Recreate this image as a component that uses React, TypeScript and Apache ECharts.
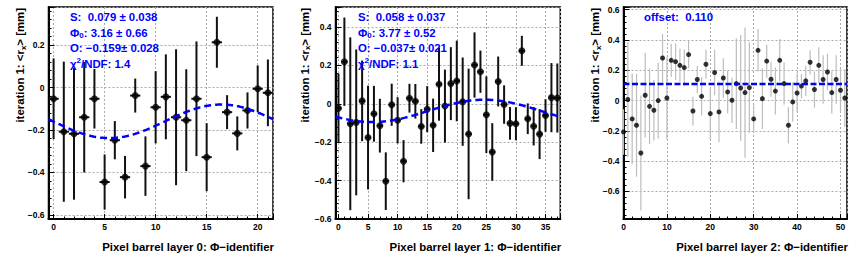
import React, { useEffect, useRef } from "react";
import * as echarts from "echarts";

const FONT = '"Liberation Sans", Arial, Helvetica, sans-serif';

// ---- Pixel barrel layer 0 (22 phi modules) ----
const layer0Values = [-0.053, -0.208, -0.218, -0.14, -0.053, -0.445, -0.248, -0.422, -0.038, -0.37, -0.093, -0.044, -0.14, -0.154, -0.053, -0.328, 0.213, -0.116, -0.216, -0.108, -0.006, -0.025];
const layer0Errors = [0.19, 0.33, 0.31, 0.26, 0.14, 0.13, 0.09, 0.1, 0.08, 0.14, 0.17, 0.2, 0.32, 0.24, 0.27, 0.16, 0.12, 0.08, 0.08, 0.085, 0.11, 0.157];
const layer0Fit = [0.079, 3.16, -0.159]; // S, Phi0, O
const layer0FitErr = [0.038, 0.66, 0.028];
const layer0Chi2 = [1.4];

// ---- Pixel barrel layer 1 (38 phi modules) ----
const layer1Values = [-0.023, 0.219, -0.104, -0.097, 0.015, -0.176, -0.052, -0.114, -0.403, -0.005, -0.086, -0.299, 0.029, 0.013, -0.118, -0.028, -0.112, 0.102, -0.012, 0.105, 0.119, 0.011, -0.157, 0.202, 0.167, -0.057, -0.251, 0.116, -0.004, -0.102, -0.104, 0.276, -0.078, -0.117, -0.158, -0.061, 0.032, 0.03];
const layer1Errors = [0.18, 0.23, 0.45, 0.38, 0.21, 0.27, 0.145, 0.14, 0.15, 0.11, 0.12, 0.11, 0.075, 0.09, 0.09, 0.12, 0.139, 0.19, 0.19, 0.19, 0.21, 0.23, 0.34, 0.17, 0.11, 0.2, 0.15, 0.13, 0.1, 0.085, 0.086, 0.078, 0.08, 0.1, 0.13, 0.085, 0.18, 0.18];
const layer1Fit = [0.058, 3.77, -0.037];
const layer1FitErr = [0.037, 0.52, 0.021];
const layer1Chi2 = [1.1];

// ---- Pixel barrel layer 2 (52 phi modules) ----
const layer2Values = [-0.207, 0.007, -0.121, -0.163, -0.346, 0.035, -0.038, -0.064, 0.0, 0.281, 0.017, 0.266, 0.257, 0.233, 0.218, 0.304, -0.069, 0.139, 0.028, 0.24, -0.086, 0.185, -0.075, 0.149, 0.057, 0.002, 0.112, 0.083, 0.053, 0.086, -0.121, 0.332, 0.013, 0.261, 0.141, 0.063, 0.266, 0.112, -0.163, -0.009, 0.05, 0.096, 0.13, 0.253, 0.073, 0.233, 0.139, 0.189, 0.053, 0.139, 0.068, 0.017];
const layer2Errors = [0.15, 0.38, 0.3, 0.34, 0.38, 0.28, 0.25, 0.2, 0.25, 0.16, 0.27, 0.11, 0.12, 0.11, 0.12, 0.09, 0.095, 0.09, 0.126, 0.095, 0.17, 0.15, 0.2, 0.13, 0.14, 0.15, 0.3, 0.35, 0.43, 0.3, 0.09, 0.14, 0.2, 0.11, 0.115, 0.155, 0.14, 0.14, 0.12, 0.13, 0.13, 0.08, 0.1, 0.08, 0.12, 0.12, 0.16, 0.12, 0.14, 0.16, 0.14, 0.19];
const layer2Offset = [0.11];

const xTitles = [
  "Pixel barrel layer 0: Φ−identifier",
  "Pixel barrel layer 1: Φ−identifier",
  "Pixel barrel layer 2: Φ−identifier",
];

const GRID_TOP = 7;
const GRID_H = 212;
const panels = [
  { left: 48.5, width: 224.5, xMin: -0.5, xMax: 21.5, xSplit: 5, yMin: -0.619, yMax: 0.379, ySplit: 5, showYMin: false, showXMin: false, titleX: 20 },
  { left: 335.5, width: 224.8, xMin: -0.5, xMax: 37.5, xSplit: 8, yMin: -0.6, yMax: 0.504, ySplit: 5, showYMin: true, showXMin: false, titleX: 304.5 },
  { left: 623.5, width: 223.5, xMin: 0, xMax: 51.5, xSplit: 5, yMin: -0.782, yMax: 0.618, ySplit: 7, showYMin: false, showXMin: true, titleX: 595 },
];

function points(values: number[], errors: number[]) {
  return values.map((v, i) => [i, v, errors[i]]);
}

function fitCurve(p: number[], n: number, xmin: number, xmax: number) {
  const out: number[][] = [];
  const steps = 200;
  for (let k = 0; k <= steps; k++) {
    const x = xmin + ((xmax - xmin) * k) / steps;
    out.push([x, p[2] + p[0] * Math.sin((2 * Math.PI * x) / n + p[1])]);
  }
  return out;
}

function fmtSigned(v: number, d: number) {
  return v < 0 ? "−" + Math.abs(v).toFixed(d) : v.toFixed(d);
}

function errorBarSeries(idx: number, data: number[][], color: string, width: number, horiz: boolean) {
  return {
    type: "custom",
    xAxisIndex: idx,
    yAxisIndex: idx,
    clip: true,
    z: 2,
    encode: { x: 0, y: 1 },
    data,
    renderItem: (_params: any, api: any) => {
      const x = api.value(0);
      const y = api.value(1);
      const e = api.value(2);
      const top = api.coord([x, y + e]);
      const bot = api.coord([x, y - e]);
      const children: any[] = [
        { type: "line", shape: { x1: top[0], y1: top[1], x2: bot[0], y2: bot[1] }, style: { stroke: color, lineWidth: width } },
      ];
      if (horiz) {
        const l = api.coord([x - 0.5, y]);
        const r = api.coord([x + 0.5, y]);
        children.push({ type: "line", shape: { x1: l[0], y1: l[1], x2: r[0], y2: r[1] }, style: { stroke: color, lineWidth: width } });
      }
      return { type: "group", children };
    },
  };
}

const richBase = {
  a: { fontSize: 11.4, fontWeight: "bold", fontFamily: FONT, lineHeight: 14, fill: "#0000ff" },
  s: { fontSize: 8, fontWeight: "bold", fontFamily: FONT, lineHeight: 6, verticalAlign: "bottom", fill: "#0000ff" },
  p: { fontSize: 8, fontWeight: "bold", fontFamily: FONT, lineHeight: 6, verticalAlign: "top", fill: "#0000ff" },
};

function fitTexts(x0: number, fit: number[], err: number[], chi2: number[]) {
  const lines = [
    `{a|S:  ${fit[0].toFixed(3)} ± ${err[0].toFixed(3)}}`,
    `{a|Φ}{s|0}{a|: ${fit[1].toFixed(2)} ± ${err[1].toFixed(2)}}`,
    `{a|O: ${fmtSigned(fit[2], 3)}± ${err[2].toFixed(3)}}`,
    `{a|χ}{p|2}{a|/NDF: ${chi2[0].toFixed(1)}}`,
  ];
  const ys = [17, 32.5, 48, 63.5];
  return lines.map((t, i) => ({
    type: "text",
    x: x0,
    y: ys[i],
    z: 100,
    style: { text: t, rich: richBase, verticalAlign: "middle", align: "left", fill: "#0000ff", fontSize: 11.4, fontWeight: "bold", fontFamily: FONT },
  }));
}

export default function App() {
  const ref = useRef<HTMLDivElement>(null);

  useEffect(() => {
    if (!ref.current) return;
    const chart = echarts.init(ref.current, undefined, { renderer: "svg" });

    const grids = panels.map((p) => ({
      left: p.left,
      top: GRID_TOP,
      width: p.width,
      height: GRID_H,
      show: true,
      borderColor: "#000",
      borderWidth: 1.5,
      backgroundColor: "transparent",
    }));

    const xAxes = panels.map((p, i) => ({
      type: "value",
      gridIndex: i,
      min: p.xMin,
      max: p.xMax,
      splitNumber: p.xSplit,
      axisLine: { show: true, onZero: false, lineStyle: { color: "#000", width: 2 } },
      axisTick: { show: true, inside: true, length: 5, lineStyle: { color: "#000", width: 1 } },
      minorTick: { show: true, splitNumber: 5, length: 2.5, lineStyle: { color: "#000", width: 1 } },
      splitLine: { show: true, lineStyle: { color: "#aaa", type: [2, 2], width: 1 } },
      axisLabel: {
        fontFamily: FONT,
        fontWeight: "bold",
        fontSize: 8.5,
        color: "#000",
        margin: 3,
        showMinLabel: p.showXMin,
        showMaxLabel: false,
        formatter: (v: number) => String(Math.round(v)),
      },
    }));

    const yAxes = panels.map((p, i) => ({
      type: "value",
      gridIndex: i,
      min: p.yMin,
      max: p.yMax,
      splitNumber: p.ySplit,
      axisLine: { show: true, onZero: false, lineStyle: { color: "#000", width: 2 } },
      axisTick: { show: true, inside: true, length: 6, lineStyle: { color: "#000", width: 1 } },
      minorTick: { show: true, splitNumber: 5, length: 3, lineStyle: { color: "#000", width: 1 } },
      splitLine: { show: true, lineStyle: { color: "#aaa", type: [2, 2], width: 1 } },
      axisLabel: {
        fontFamily: FONT,
        fontWeight: "bold",
        fontSize: 8.5,
        color: "#000",
        margin: 4,
        showMinLabel: p.showYMin,
        showMaxLabel: false,
        formatter: (v: number) => {
          const r = Math.round(v * 100) / 100;
          return r < 0 ? "−" + Math.abs(r) : String(r);
        },
      },
    }));

    const d0 = points(layer0Values, layer0Errors);
    const d1 = points(layer1Values, layer1Errors);
    const d2 = points(layer2Values, layer2Errors);

    const series: any[] = [
      errorBarSeries(0, d0, "#111", 2, true),
      { type: "scatter", xAxisIndex: 0, yAxisIndex: 0, data: d0.map((d) => [d[0], d[1]]), symbol: "circle", symbolSize: 7, itemStyle: { color: "#000" }, z: 3 },
      { type: "line", xAxisIndex: 0, yAxisIndex: 0, data: fitCurve(layer0Fit, layer0Values.length, panels[0].xMin, panels[0].xMax), showSymbol: false, symbol: "none", lineStyle: { color: "#0000ff", width: 2.5, type: [7, 4] }, z: 4 },

      errorBarSeries(1, d1, "#111", 2, true),
      { type: "scatter", xAxisIndex: 1, yAxisIndex: 1, data: d1.map((d) => [d[0], d[1]]), symbol: "circle", symbolSize: 7, itemStyle: { color: "#000" }, z: 3 },
      { type: "line", xAxisIndex: 1, yAxisIndex: 1, data: fitCurve(layer1Fit, layer1Values.length, panels[1].xMin, panels[1].xMax), showSymbol: false, symbol: "none", lineStyle: { color: "#0000ff", width: 2.5, type: [7, 4] }, z: 4 },

      errorBarSeries(2, d2, "#bdbdbd", 1.2, false),
      { type: "scatter", xAxisIndex: 2, yAxisIndex: 2, data: d2.map((d) => [d[0], d[1]]), symbol: "circle", symbolSize: 5, itemStyle: { color: "#000" }, z: 3 },
      { type: "line", xAxisIndex: 2, yAxisIndex: 2, data: [[panels[2].xMin, layer2Offset[0]], [panels[2].xMax, layer2Offset[0]]], showSymbol: false, symbol: "none", lineStyle: { color: "#0000ff", width: 2.5, type: [6, 2.5] }, z: 4 },
    ];

    const graphics: any[] = [];
    panels.forEach((p, i) => {
      graphics.push({
        type: "text",
        x: p.titleX,
        y: 8,
        rotation: Math.PI / 2,
        z: 100,
        style: {
          text: "{a|iteration 1: <r}{s|x}{a|> [mm]}",
          rich: {
            a: { fontSize: 11.4, fontWeight: "bold", fontFamily: FONT, lineHeight: 14, fill: "#000" },
            s: { fontSize: 8, fontWeight: "bold", fontFamily: FONT, lineHeight: 6, verticalAlign: "bottom", fill: "#000" },
          },
          align: "right",
          verticalAlign: "middle",
          fill: "#000",
        },
      });
      graphics.push({
        type: "text",
        x: p.left + p.width + 1,
        y: 247,
        z: 100,
        style: {
          text: xTitles[i],
          fill: "#000",
          fontSize: 11.4,
          fontWeight: "bold",
          fontFamily: FONT,
          align: "right",
          verticalAlign: "middle",
        },
      });
    });
    graphics.push(...fitTexts(70, layer0Fit, layer0FitErr, layer0Chi2));
    graphics.push(...fitTexts(358, layer1Fit, layer1FitErr, layer1Chi2));
    graphics.push({
      type: "text",
      x: 644,
      y: 17,
      z: 100,
      style: {
        text: `offset:  ${layer2Offset[0].toFixed(3)}`,
        fill: "#0000ff",
        fontSize: 11.4,
        fontWeight: "bold",
        fontFamily: FONT,
        align: "left",
        verticalAlign: "middle",
      },
    });

    chart.setOption({
      animation: false,
      backgroundColor: "#fff",
      grid: grids,
      xAxis: xAxes,
      yAxis: yAxes,
      series,
      graphic: graphics,
    });

    return () => chart.dispose();
  }, []);

  return <div ref={ref} style={{ position: "absolute", left: 0, top: 0, width: 861, height: 261 }} />;
}
